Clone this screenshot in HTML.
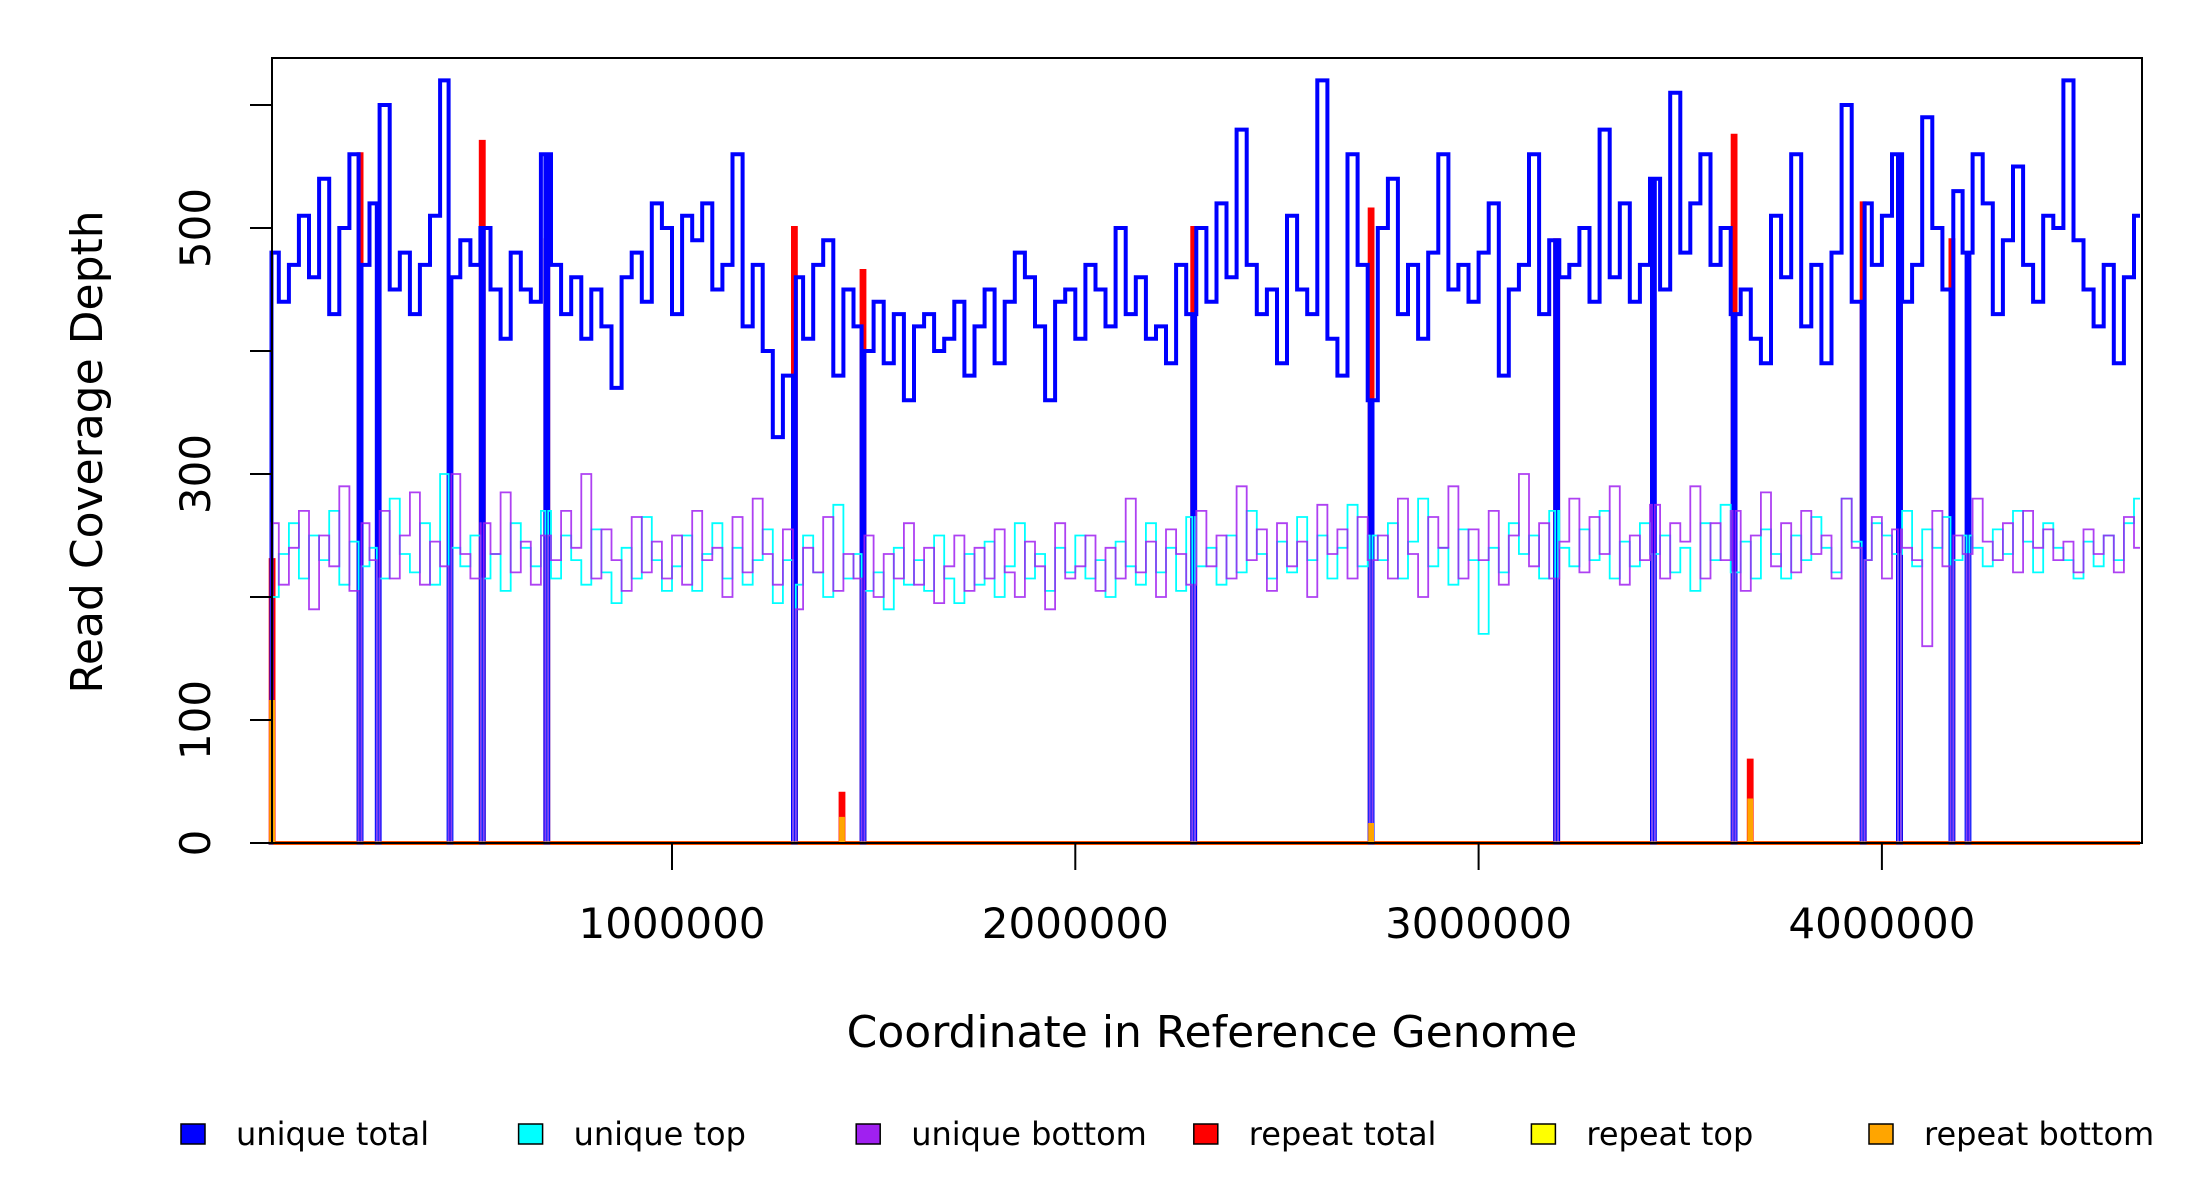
<!DOCTYPE html>
<html><head><meta charset="utf-8">
<style>
html,body{margin:0;padding:0;background:#fff;}
svg{display:block;font-family:"DejaVu Sans","Liberation Sans",sans-serif;}
</style></head>
<body>
<svg id="chart" width="2200" height="1200" viewBox="0 0 2200 1200">
  <g id="plot"></g>
  <rect x="272" y="58" width="1870" height="785" fill="none" stroke="#000" stroke-width="2"/>
  <g id="axes"></g>
  <text x="1212" y="1047" font-size="44" text-anchor="middle">Coordinate in Reference Genome</text>
  <text transform="translate(102,452) rotate(-90)" font-size="44" text-anchor="middle">Read Coverage Depth</text>
  <g id="legend"></g>
</svg>
<script>
const binSize = 25000;
const uniqueTotal = [480,440,470,510,460,540,430,500,560,470,
520,600,450,480,430,470,510,620,460,490,
470,500,450,410,480,450,440,560,470,430,
460,410,450,420,370,460,480,440,520,500,
430,510,490,520,450,470,560,420,470,400,
330,380,460,410,470,490,380,450,420,400,
440,390,430,360,420,430,400,410,440,380,
420,450,390,440,480,460,420,360,440,450,
410,470,450,420,500,430,460,410,420,390,
470,430,500,440,520,460,580,470,430,450,
390,510,450,430,620,410,380,560,470,360,
500,540,430,470,410,480,560,450,470,440,
480,520,380,450,470,560,430,490,460,470,
500,440,580,460,520,440,470,540,450,610,
480,520,560,470,500,430,450,410,390,510,
460,560,420,470,390,480,600,440,520,470,
510,560,440,470,590,500,450,530,480,560,
520,430,490,550,470,440,510,500,620,490,
450,420,470,390,460,510];
const uniqueTop = [200,235,260,215,250,230,270,210,245,225,
240,215,280,235,220,260,210,300,240,225,
250,215,235,205,260,240,225,270,215,250,
230,210,255,220,195,240,215,265,230,205,
225,250,205,235,260,215,240,210,230,255,
195,230,210,250,220,200,275,215,235,205,
220,190,240,210,230,205,250,215,195,235,
210,245,200,225,260,215,235,205,240,220,
250,215,230,200,245,225,210,260,220,240,
205,265,225,240,210,250,220,270,235,215,
245,220,265,230,250,215,240,275,225,250,
230,260,215,245,280,225,240,210,255,230,
170,240,220,260,235,250,215,270,240,225,
255,230,270,215,245,225,260,235,250,220,
240,205,260,230,275,220,245,215,255,235,
215,250,230,265,240,220,280,245,230,260,
250,235,270,225,255,240,265,230,250,240,
225,255,235,270,245,220,260,240,230,215,
245,225,250,230,260,280];
const uniqueBottom = [260,210,240,270,190,250,225,290,205,260,
230,270,215,250,285,210,245,225,300,235,
215,260,235,285,220,245,210,250,230,270,
240,300,215,255,230,205,265,220,245,215,
250,210,270,230,240,200,265,220,280,235,
210,255,190,240,220,265,205,235,215,250,
200,235,215,260,210,240,195,225,250,205,
240,215,255,220,200,245,225,190,260,215,
225,250,205,240,215,280,220,245,200,255,
235,210,270,225,250,215,290,230,255,205,
260,225,245,200,275,235,255,215,265,230,
250,215,280,235,200,265,240,290,215,255,
230,270,210,250,300,225,260,215,245,280,
220,265,235,290,210,250,230,275,215,260,
245,290,215,260,230,270,205,250,285,225,
260,220,270,235,250,215,280,240,230,265,
215,255,240,230,160,270,225,250,235,280,
245,230,260,220,270,240,255,230,245,220,
255,235,250,220,265,240];
const dropoutStarts = [0,223000,268000,446000,526000,686000,1300000,1470000,2290000,2730000,3190000,3430000,3630000,3950000,4040000,4170000,4210000];
const dropoutWidth = 7000;
const repeatPos = [5000,223000,526000,686000,1300000,1418000,1470000,2290000,2730000,3190000,3630000,3670000,3950000,4040000,4170000];
const repeatTotal = [230,560,570,490,500,40,465,500,515,490,575,67,520,530,490];
const repeatTop = [0,0,0,0,0,15,0,0,10,0,0,25,0,0,0];
const repeatBottom = [115,0,0,0,0,20,0,0,15,0,0,35,0,0,0];
const genomeEnd = 4640000;
const yTicks = [0,100,200,300,400,500,600];
const yTickLabels = ["0","100","","300","","500",""];
const xTicks = [1000000,2000000,3000000,4000000];
const xTickLabels = ["1000000","2000000","3000000","4000000"];
const legendLabels = ["unique total","unique top","unique bottom","repeat total","repeat top","repeat bottom"];
const legendColors = ["#0000ff","#00ffff","#a020f0","#ff0000","#ffff00","#ffa500"];

const NS = "http://www.w3.org/2000/svg";
function xs(v){ return 268.7 + v * 403.3e-6; }
function ys(v){ return 843 - v * 1.23; }
function mk(tag, attrs, parent){ const e=document.createElementNS(NS,tag); for(const k in attrs) e.setAttribute(k,attrs[k]); parent.appendChild(e); return e; }

function isDrop(p){ return dropoutStarts.some(s => p >= s && p < s + dropoutWidth); }
function seriesPath(arr){
  let bps = new Set([0, genomeEnd]);
  for(let i=0;i<arr.length;i++) bps.add(Math.min(i*binSize, genomeEnd));
  dropoutStarts.forEach(s => { bps.add(s); bps.add(s + dropoutWidth); });
  const pts = [...bps].filter(p => p <= genomeEnd).sort((a,b)=>a-b);
  let d = "";
  for(let k=0;k<pts.length-1;k++){
    const a = pts[k], b = pts[k+1];
    const mid = (a+b)/2;
    const bi = Math.min(arr.length-1, Math.floor(mid / binSize));
    const v = isDrop(mid) ? 0 : arr[bi];
    d += (k===0 ? "M" : "L") + xs(a).toFixed(1) + "," + ys(v).toFixed(1) + "L" + xs(b).toFixed(1) + "," + ys(v).toFixed(1);
  }
  return d;
}
function spikePath(vals){
  let d = "M" + xs(0) + "," + ys(0);
  repeatPos.forEach((p,i) => {
    if(vals[i] <= 0) return;
    d += "L" + xs(p).toFixed(1) + "," + ys(0) + "L" + xs(p).toFixed(1) + "," + ys(vals[i]).toFixed(1) +
         "L" + xs(p+dropoutWidth).toFixed(1) + "," + ys(vals[i]).toFixed(1) + "L" + xs(p+dropoutWidth).toFixed(1) + "," + ys(0);
  });
  d += "L" + xs(genomeEnd) + "," + ys(0);
  return d;
}

const plot = document.getElementById("plot");
const red = mk("path",{d:spikePath(repeatTotal),fill:"none",stroke:"#ff0000","stroke-width":4},plot);


const blue = mk("path",{d:seriesPath(uniqueTotal),fill:"none",stroke:"#0000ff","stroke-width":4},plot);


const cyan = mk("path",{d:seriesPath(uniqueTop),fill:"none",stroke:"#00ffff","stroke-width":1.8},plot);


const purple = mk("path",{d:seriesPath(uniqueBottom),fill:"none",stroke:"#a020f0","stroke-width":1.8,"stroke-opacity":0.85},plot);


const yel = mk("path",{d:spikePath(repeatTop),fill:"none",stroke:"#ffff00","stroke-width":2},plot);


const org = mk("path",{d:spikePath(repeatBottom),fill:"none",stroke:"#ffa500","stroke-width":3},plot);



const axes = document.getElementById("axes");
yTicks.forEach((t,i) => {
  const l = mk("line",{x1:250,x2:272,y1:ys(t),y2:ys(t),stroke:"#000","stroke-width":2},axes);
  
  
  if(yTickLabels[i]){
    const tx = mk("text",{transform:"translate(210,"+ys(t)+") rotate(-90)","font-size":42,"text-anchor":"middle"},axes);
    tx.textContent = yTickLabels[i];
    
    
  }
});
xTicks.forEach((t,i) => {
  const l = mk("line",{x1:xs(t),x2:xs(t),y1:843,y2:870,stroke:"#000","stroke-width":2},axes);
  
  
  const tx = mk("text",{x:xs(t),y:938,"font-size":42,"text-anchor":"middle"},axes);
  tx.textContent = xTickLabels[i];
  
  
});

const legend = document.getElementById("legend");
legendLabels.forEach((lab,i) => {
  const x0 = 181 + i*337.6;
  const r = mk("rect",{x:x0,y:1124,width:24,height:20,fill:legendColors[i],stroke:"#000","stroke-width":1.5},legend);
  
  
  const tx = mk("text",{x:x0+55,y:1145,"font-size":32},legend);
  tx.textContent = lab;
  
  
});
</script>
</body></html>
